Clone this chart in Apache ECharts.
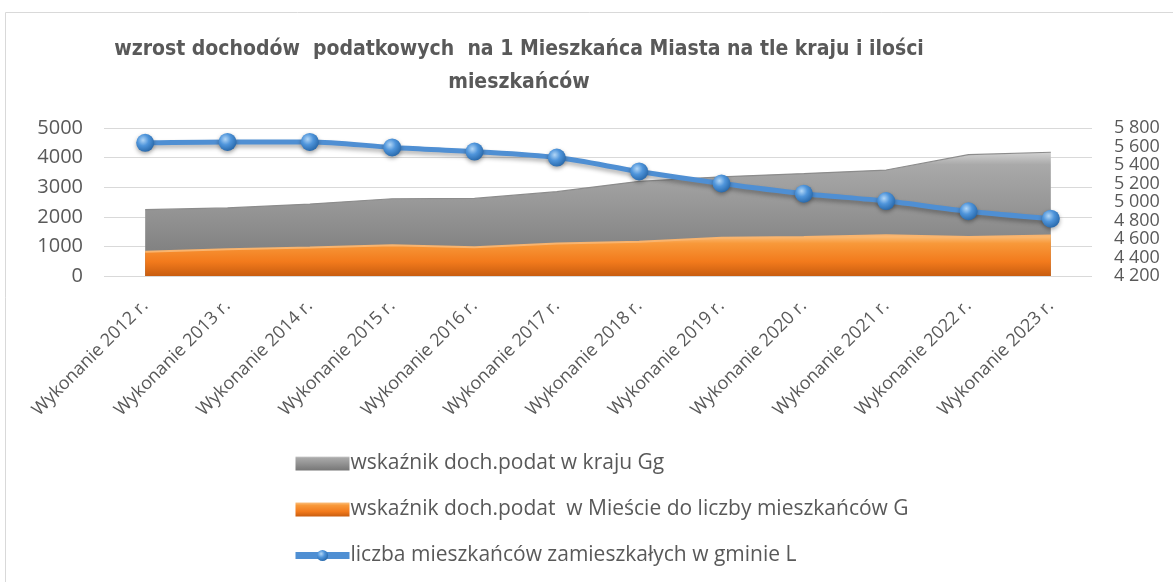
<!DOCTYPE html>
<html>
<head>
<meta charset="utf-8">
<script src="https://cdn.jsdelivr.net/npm/echarts@6/dist/echarts.min.js"></script>
<style>
html,body{margin:0;padding:0;background:#fff;}
#chart{width:1173px;height:582px;}
</style>
</head>
<body>
<div id="chart"></div>
<script>
// ---- data ----
const categories = ['Wykonanie 2012 r.','Wykonanie 2013 r.','Wykonanie 2014 r.','Wykonanie 2015 r.','Wykonanie 2016 r.','Wykonanie 2017 r.','Wykonanie 2018 r.','Wykonanie 2019 r.','Wykonanie 2020 r.','Wykonanie 2021 r.','Wykonanie 2022 r.','Wykonanie 2023 r.'];
const seriesNames = ['wskaźnik doch.podat w kraju Gg','wskaźnik doch.podat  w Mieście do liczby mieszkańców G','liczba mieszkańców zamieszkałych w gminie L'];
const krajValues = [2240, 2300, 2430, 2610, 2620, 2850, 3200, 3350, 3460, 3580, 4100, 4180];
const miastoValues = [820, 900, 960, 1040, 970, 1100, 1160, 1290, 1320, 1380, 1320, 1370];
const mieszkancyValues = [5640, 5650, 5650, 5590, 5545, 5480, 5330, 5200, 5090, 5010, 4900, 4820];
const titleText = 'wzrost dochodów  podatkowych  na 1 Mieszkańca Miasta na tle kraju i ilości\nmieszkańców';

const chart = echarts.init(document.getElementById('chart'), null, {renderer:'canvas'});
const G = echarts.graphic;
const grayFill = new G.LinearGradient(0,0,0,1,[
  {offset:0,color:'#d2d2d2'},{offset:0.1,color:'#a9a9a9'},{offset:0.5,color:'#939393'},{offset:1,color:'#767676'}]);
const orangeFill = new G.LinearGradient(0,0,0,1,[
  {offset:0,color:'#fbc07f'},{offset:0.2,color:'#f8993a'},{offset:0.65,color:'#f27a1c'},{offset:1,color:'#c85d10'}]);
const markerFill = new G.RadialGradient(0.38,0.35,0.7,[
  {offset:0,color:'#b2d6f6'},{offset:0.45,color:'#4f95db'},{offset:1,color:'#2666a8'}]);

const txt = '#595959';
chart.setOption({
  animation:false,
  backgroundColor:'#ffffff',
  graphic:[{type:'rect',shape:{x:5.5,y:12.5,width:1300,height:700},style:{fill:'none',stroke:'#d9d9d9',lineWidth:1},silent:true}],
  title:{
    text:titleText,
    left:514, top:28, textAlign:'center',
    textStyle:{fontFamily:'DejaVu Sans Condensed',fontWeight:'bold',fontSize:21,color:txt,lineHeight:33}
  },
  legend:{
    orient:'vertical', left:292, top:453, padding:0,
    itemWidth:54, itemHeight:14, itemGap:25,
    textStyle:{fontFamily:'Open Sans',fontSize:21,color:txt,padding:[0,0,0,-4]},
    data:[{name:seriesNames[0],icon:'rect'},{name:seriesNames[1],icon:'rect'},
          {name:seriesNames[2],lineStyle:{width:7}}]
  },
  grid:{left:104,right:81,top:128,bottom:306,containLabel:false},
  xAxis:{
    type:'category', data:categories, boundaryGap:true,
    axisLine:{show:false}, axisTick:{show:false},
    axisLabel:{interval:0,rotate:45,margin:27,fontFamily:'Open Sans',fontSize:18,color:txt}
  },
  yAxis:[
    {type:'value',min:0,max:5000,interval:1000,
     axisLine:{show:false},axisTick:{show:false},
     splitLine:{lineStyle:{color:'#d9d9d9',width:1}},
     axisLabel:{margin:21,fontFamily:'Open Sans',fontSize:20,color:txt,formatter:v=>String(v)}},
    {type:'value',min:4200,max:5800,interval:200,position:'right',
     axisLine:{show:false},axisTick:{show:false},splitLine:{show:false},
     axisLabel:{margin:22,fontFamily:'Open Sans',fontSize:18,lineHeight:14,color:txt,
       showMinLabel:true,showMaxLabel:true,hideOverlap:false,
       formatter:v=>String(v).replace(/\B(?=(\d{3})+(?!\d))/g,' ')}}
  ],
  series:[
    {name:seriesNames[0],type:'line',data:krajValues,yAxisIndex:0,
     symbol:'none',showSymbol:false,
     itemStyle:{color:grayFill},
     lineStyle:{color:'#8c8c8c',width:1.2},
     areaStyle:{color:grayFill,opacity:1}},
    {name:seriesNames[1],type:'line',data:miastoValues,yAxisIndex:0,
     symbol:'none',showSymbol:false,
     itemStyle:{color:orangeFill},
     lineStyle:{color:'#f9b46e',width:2},
     areaStyle:{color:orangeFill,opacity:1}},
    {name:seriesNames[2],type:'line',data:mieszkancyValues,yAxisIndex:1,
     smooth:0.3,symbol:'circle',symbolSize:18,
     itemStyle:{color:markerFill,shadowColor:'rgba(0,0,0,0.35)',shadowBlur:4,shadowOffsetY:2},
     lineStyle:{color:'#4f8fd3',width:5,shadowColor:'rgba(0,0,0,0.3)',shadowBlur:4,shadowOffsetY:3},
     z:3}
  ]
});
</script>
</body>
</html>
